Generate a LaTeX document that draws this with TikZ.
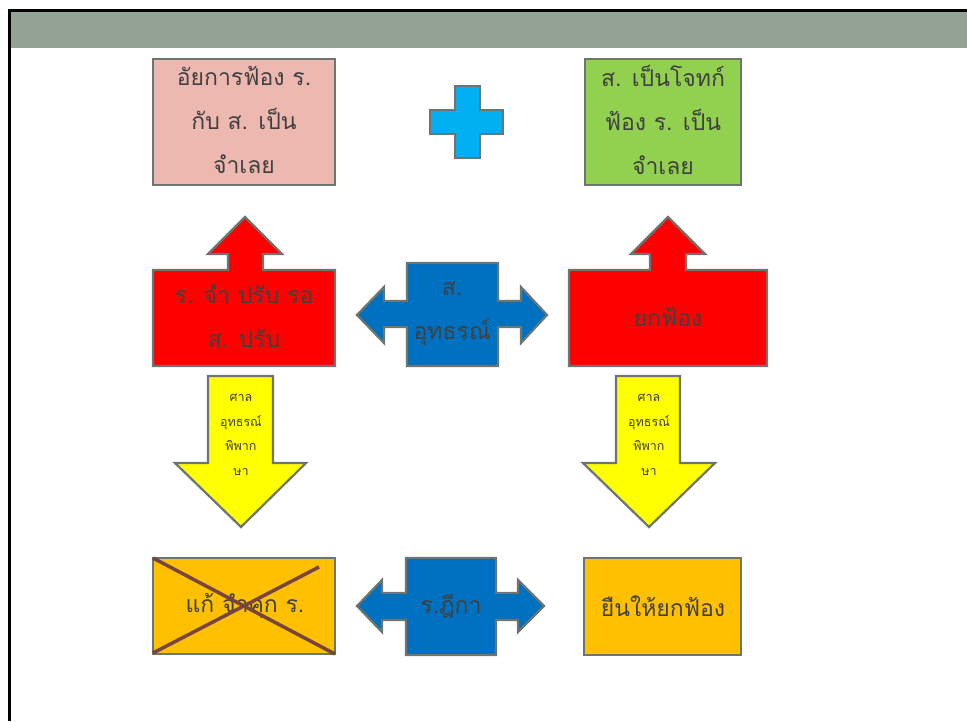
\documentclass[tikz,border=0pt]{standalone}
\usepackage{fontspec}
\newfontfamily\thaifont[Script=Thai]{Loma}
\usetikzlibrary{positioning}
\definecolor{slBand}{RGB}{148,162,150}
\definecolor{slEdge}{RGB}{108,117,112}
\definecolor{slText}{RGB}{64,64,64}
\definecolor{slPink}{RGB}{236,184,176}
\definecolor{slGreen}{RGB}{146,208,80}
\definecolor{slCyan}{RGB}{0,176,240}
\definecolor{slRed}{RGB}{255,0,0}
\definecolor{slBlue}{RGB}{0,112,192}
\definecolor{slYellow}{RGB}{255,255,0}
\definecolor{slAmber}{RGB}{255,192,0}
\definecolor{slCross}{RGB}{121,68,59}

\begin{document}
\begin{tikzpicture}[x=1pt, y=-1pt,
  blockedge/.style={draw=slEdge, line width=2.2pt, line join=miter},
  thaiBig/.style={font=\thaifont\fontsize{23}{44}\selectfont, text=slText, align=center, inner sep=0pt},
  thaiSmall/.style={font=\thaifont\fontsize{12.5}{24.5}\selectfont, text=slText, align=center, inner sep=0pt}]
  \useasboundingbox (0,0) rectangle (967,721);

  % Slide frame
  \fill[slBand] (10,10) rectangle (967,47.5);
  \draw[black, line width=2.6pt] (9.7,721) -- (9.7,10.3) -- (967,10.3);

  % Top row
  \filldraw[blockedge, fill=slPink] (153,59) rectangle (335,185);
  \filldraw[blockedge, fill=slGreen] (585,59) rectangle (741,185);
  \filldraw[blockedge, fill=slCyan] (455,86) -- (480,86) -- (480,110) -- (503,110) -- (503,134)
    -- (480,134) -- (480,158) -- (455,158) -- (455,134) -- (430,134) -- (430,110) -- (455,110) -- cycle;
  \node[thaiBig] (prosecutor) at (244,120) {อัยการฟ้อง ร.\\กับ ส. เป็น\\จำเลย};
  \node[thaiBig] (plaintiff) at (663,120) {ส. เป็นโจทก์\\ฟ้อง ร. เป็น\\จำเลย};

  % Middle row
  \filldraw[blockedge, fill=slRed] (153,270) -- (228,270) -- (228,254) -- (208,254) -- (245,217)
    -- (282,254) -- (263,254) -- (263,270) -- (335,270) -- (335,366) -- (153,366) -- cycle;
  \filldraw[blockedge, fill=slRed] (569,270) -- (650,270) -- (650,254) -- (631,254) -- (668,217)
    -- (705,254) -- (686,254) -- (686,270) -- (767,270) -- (767,366) -- (569,366) -- cycle;
  \filldraw[blockedge, fill=slBlue] (357,315) -- (384,287) -- (384,301) -- (407,301) -- (407,263)
    -- (498,263) -- (498,301) -- (521,301) -- (521,287) -- (547,315) -- (521,343) -- (521,327)
    -- (498,327) -- (498,366) -- (407,366) -- (407,327) -- (384,327) -- (384,343) -- cycle;
  \node[thaiBig] (fined) at (244,316) {ร. จำ ปรับ รอ\\ส. ปรับ};
  \node[thaiBig] (appealS) at (452,314) {ส.\\อุทธรณ์};
  \node[thaiBig] (dismiss) at (668,317) {ยกฟ้อง};

  % Court of appeal
  \filldraw[blockedge, fill=slYellow] (208,376) -- (273,376) -- (273,463) -- (306,463)
    -- (241,527) -- (175,463) -- (208,463) -- cycle;
  \filldraw[blockedge, fill=slYellow] (616,376) -- (680,376) -- (680,463) -- (715,463)
    -- (649,527) -- (583,463) -- (616,463) -- cycle;
  \node[thaiSmall] (courtL) at (241,435) {ศาล\\อุทธรณ์\\พิพาก\\ษา};
  \node[thaiSmall] (courtR) at (649,435) {ศาล\\อุทธรณ์\\พิพาก\\ษา};

  % Bottom row
  \filldraw[blockedge, fill=slAmber] (153,558) rectangle (335,654);
  \filldraw[blockedge, fill=slAmber] (584,558) rectangle (741,655);
  \filldraw[blockedge, fill=slBlue] (357,606) -- (382,580) -- (382,593) -- (406,593) -- (406,558)
    -- (496,558) -- (496,593) -- (518,593) -- (518,580) -- (544,606) -- (518,632) -- (518,620)
    -- (496,620) -- (496,655) -- (406,655) -- (406,620) -- (382,620) -- (382,632) -- cycle;
  \node[thaiBig] (jailed) at (245,606) {แก้ จำคุก ร.};
  \node[thaiBig] (supreme) at (451,606) {ร.ฎีกา};
  \node[thaiBig] (upheld) at (663,606) {ยืนให้ยกฟ้อง};
  \draw[slCross, line width=3.5pt] (153,558) -- (335,654);
  \draw[slCross, line width=3.5pt] (319,567) -- (153,653);
\end{tikzpicture}
\end{document}
